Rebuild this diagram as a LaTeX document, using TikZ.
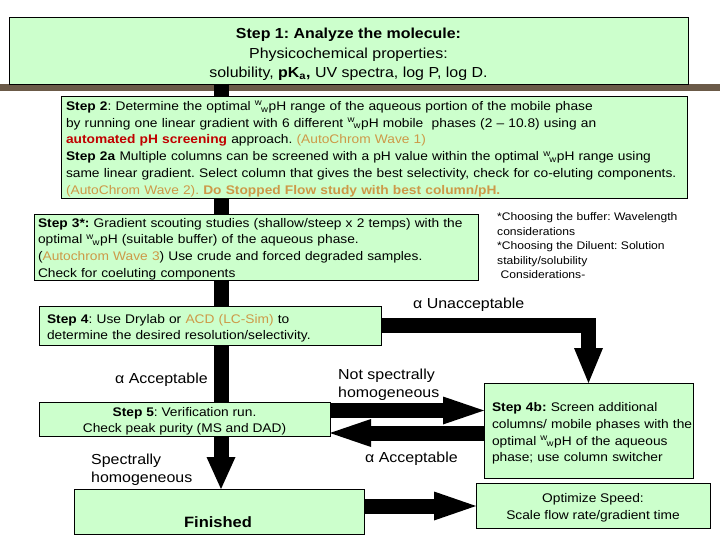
\documentclass[tikz,border=0pt]{standalone}
\usepackage{fontspec}
\setmainfont{Liberation Sans}[FakeStretch=1.1]
\usetikzlibrary{arrows.meta,calc}
\definecolor{boxgreen}{HTML}{CCFFCC}
\definecolor{redt}{HTML}{C00000}
\definecolor{orgt}{HTML}{CC9948}
\definecolor{brownband}{HTML}{6B5A48}
\frenchspacing
\newcommand{\wwpH}{\textsuperscript{w}\kern-0.1em\textsubscript{w}pH}
\newcommand{\fsz}[2]{\fontsize{#1}{#2}\selectfont}
\newcommand{\vpad}[1]{\rule{0pt}{#1}}
\tikzset{
  box/.style={draw=black, line width=0.8pt, fill=boxgreen, inner sep=0pt, outer sep=0pt},
  bar/.style={line width=15pt, black},
  fat/.style 2 args={line width=15pt, black, line join=miter,
    -{Triangle[width=#1, length=#2, line width=0pt]}},
  lbl/.style={inner sep=0pt, align=left, font=\fsz{14.5}{18}}
}
\begin{document}
\begin{tikzpicture}[x=1pt,y=-1pt]
\useasboundingbox (0,0) rectangle (720,540);
\fill[white] (0,0) rectangle (720,540);
\fill[brownband] (0,84.5) rectangle (720,91);
\coordinate (bx) at (221,0);

% boxes
\node[box, minimum width=679pt, minimum height=67pt, align=center, font=\fsz{14.5}{19.5}] (s1) at (348.5,50.5)
  {\vpad{18.5pt}\textbf{Step 1: Analyze the molecule:}\\ Physicochemical properties:\\ solubility, \textbf{pK\textsubscript{a},} UV spectra, log P, log D.};

\node[box, minimum height=102pt, text width=616pt, inner xsep=5pt, align=left, font=\fsz{12.5}{16.8}] (s2) at (374,147.5)
  {\mbox{\vpad{12pt}\textbf{Step 2}: Determine the optimal \wwpH{} range of the aqueous portion of the mobile phase}\\
   \mbox{by running one linear gradient with 6 different \wwpH{} mobile\ \ phases (2 -- 10.8) using an}\\
   \mbox{\textcolor{redt}{\textbf{automated pH screening}} approach. \textcolor{orgt}{(AutoChrom Wave 1)}}\\
   \mbox{\textbf{Step 2a} Multiple columns can be screened with a pH value within the optimal \wwpH{} range using}\\
   \mbox{same linear gradient. Select column that gives the best selectivity, check for co-eluting components.}\\
   \mbox{\textcolor{orgt}{(AutoChrom Wave 2). \textbf{Do Stopped Flow study with best column/pH.}}}};

\node[box, minimum height=65pt, text width=436pt, inner xsep=4pt, align=left, font=\fsz{12.5}{16.8}] (s3) at (256,247)
  {\mbox{\vpad{13pt}\textbf{Step 3*:} Gradient scouting studies (shallow/steep x 2 temps) with the}\\
   \mbox{optimal \wwpH{} (suitable buffer) of the aqueous phase.}\\
   \mbox{(\textcolor{orgt}{Autochrom Wave 3}) Use crude and forced degraded samples.}\\
   \mbox{Check for coeluting components}};

\node[inner sep=0pt, anchor=north west, align=left, font=\fsz{11}{14.5}] (note) at (497,212.5)
  {*Choosing the buffer: Wavelength\\ considerations\\ *Choosing the Diluent: Solution\\ stability/solubility\\ \ Considerations-};

\node[box, minimum height=39pt, text width=326pt, inner xsep=8pt, align=left, font=\fsz{12.5}{16}] (s4) at (210,325.5)
  {\mbox{\vpad{14pt}\textbf{Step 4}: Use Drylab or \textcolor{orgt}{ACD (LC-Sim)} to}\\ \mbox{determine the desired resolution/selectivity.}};

\node[box, minimum width=291pt, minimum height=34pt, align=center, font=\fsz{12.5}{16}] (s5) at (184.5,419)
  {\vpad{14pt}\textbf{Step 5}: Verification run.\\ Check peak purity (MS and DAD)};

\node[box, minimum height=95pt, text width=193pt, inner xsep=8pt, align=left, font=\fsz{12.5}{16.8}] (s4b) at (588.5,430.5)
  {\mbox{\vpad{15pt}\textbf{Step 4b:} Screen additional}\\ \mbox{columns/ mobile phases with the}\\ \mbox{optimal \wwpH{} of the aqueous}\\ \mbox{phase; use column switcher}};

\node[box, minimum width=290pt, minimum height=45pt] (fin) at (219,511.5) {};
\node[inner sep=0pt, font=\fsz{15}{18}] (fintext) at (218,522) {\textbf{Finished}};

\node[box, minimum width=234pt, minimum height=45pt, align=center, font=\fsz{12.5}{17}] (opt) at (593,506)
  {\vpad{12pt}Optimize Speed:\\ Scale flow rate/gradient time};

% labels
\node[lbl, anchor=west] (acc1) at (115,380) {α Acceptable};
\node[lbl, anchor=west] (nsh) at (338,385) {Not spectrally\\homogeneous};
\node[lbl, anchor=west] (sh) at (91,469.5) {Spectrally\\homogeneous};
\node[lbl, anchor=west] (acc2) at (365,459) {α Acceptable};
\node[lbl, anchor=west] (unacc) at (413,305) {α Unacceptable};

% main trunk
\draw[bar] (s1.south -| bx) -- (s2.north -| bx);
\draw[bar] (s2.south -| bx) -- (s3.north -| bx);
\draw[bar] (s3.south -| bx) -- (s4.north -| bx);
\draw[bar] (s4.south -| bx) -- (s5.north -| bx);
\draw[fat={29pt}{32pt}] (s5.south -| bx) -- (fin.north -| bx);
% alpha unacceptable
\draw[fat={29pt}{35pt}] (s4.east) -| (s4b.north);
% to / from step 4b
\draw[fat={28pt}{41pt}] ($(s5.east)+(0,-8.5)$) -- ($(s4b.west |- s5.east)+(0,-8.5)$);
\draw[fat={28pt}{41pt}] ($(s4b.west |- s5.east)+(0,14)$) -- ($(s5.east)+(0,14)$);
% finished to optimize
\draw[fat={29pt}{42pt}] (fin.east |- opt.west) -- (opt.west);
\end{tikzpicture}
\end{document}
